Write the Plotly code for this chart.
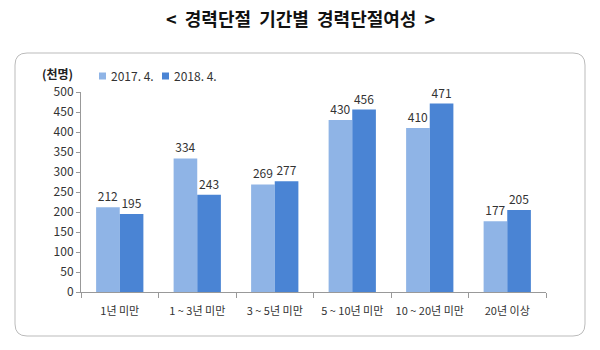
import plotly.graph_objects as go

categories = ["1년 미만", "1 ~ 3년 미만", "3 ~ 5년 미만", "5 ~ 10년 미만", "10 ~ 20년 미만", "20년 이상"]
series_names = ["2017. 4.", "2018. 4."]
values_2017 = [212, 334, 269, 430, 410, 177]
values_2018 = [195, 243, 277, 456, 471, 205]
y_ticks = [0, 50, 100, 150, 200, 250, 300, 350, 400, 450, 500]

colors = ["#8FB4E6", "#4A84D4"]
FONT = "Noto Sans CJK KR"

W, H = 600, 350
ML, MR, MT, MB = 81, 54, 92, 58
PW, PH = W - ML - MR, H - MT - MB


def px_x(x):
    return (x - ML) / PW


def px_y(y):
    return (H - MB - y) / PH


fig = go.Figure()
for name, vals, col in zip(series_names, [values_2017, values_2018], colors):
    fig.add_trace(go.Bar(
        x=categories, y=vals, name=name, marker=dict(color=col, line=dict(width=0)),
        text=[str(v) for v in vals], textposition="outside", cliponaxis=False,
        textfont=dict(family=FONT, size=12, color="#333333"), showlegend=False,
    ))

# rounded frame around the chart body
x0, x1, y0, y1, r = 15, 585, 53, 336, 12
path = (
    f"M {px_x(x0 + r)} {px_y(y0)} L {px_x(x1 - r)} {px_y(y0)} "
    f"Q {px_x(x1)} {px_y(y0)} {px_x(x1)} {px_y(y0 + r)} "
    f"L {px_x(x1)} {px_y(y1 - r)} Q {px_x(x1)} {px_y(y1)} {px_x(x1 - r)} {px_y(y1)} "
    f"L {px_x(x0 + r)} {px_y(y1)} Q {px_x(x0)} {px_y(y1)} {px_x(x0)} {px_y(y1 - r)} "
    f"L {px_x(x0)} {px_y(y0 + r)} Q {px_x(x0)} {px_y(y0)} {px_x(x0 + r)} {px_y(y0)} Z"
)
shapes = [dict(type="path", xref="paper", yref="paper", path=path,
               line=dict(color="#BBBBBB", width=1), fillcolor="rgba(0,0,0,0)", layer="below")]

annotations = [
    dict(text="<  경력단절  기간별  경력단절여성  >", x=px_x(300), y=px_y(18), xref="paper", yref="paper",
         showarrow=False, xanchor="center", yanchor="middle",
         font=dict(family=FONT, size=18, color="#111111", weight="bold")),
    dict(text="(천명)", x=px_x(57), y=px_y(73), xref="paper", yref="paper",
         showarrow=False, xanchor="center", yanchor="middle",
         font=dict(family=FONT, size=12, color="#222222", weight="bold")),
]

# legend drawn as small swatches with labels
legend_x = [99, 162]
for lx, name, col in zip(legend_x, series_names, colors):
    shapes.append(dict(type="rect", xref="paper", yref="paper",
                       x0=px_x(lx), x1=px_x(lx + 7), y0=px_y(79.5), y1=px_y(72.5),
                       fillcolor=col, line=dict(width=0)))
    annotations.append(dict(text=name, x=px_x(lx + 10), y=px_y(76), xref="paper", yref="paper",
                            showarrow=False, xanchor="left", yanchor="middle",
                            font=dict(family=FONT, size=12, color="#333333")))

fig.update_layout(
    width=W, height=H, margin=dict(l=ML, r=MR, t=MT, b=MB, autoexpand=False),
    paper_bgcolor="white", plot_bgcolor="white",
    barmode="group", bargap=0.39, bargroupgap=0,
    font=dict(family=FONT, size=12, color="#333333"),
    shapes=shapes, annotations=annotations,
)
fig.update_xaxes(showline=True, linecolor="#999999", linewidth=1, ticks="outside",
                 tickson="boundaries", ticklen=5, tickcolor="#999999", tickangle=0,
                 automargin=False, ticklabelstandoff=9,
                 tickfont=dict(family=FONT, size=11, color="#333333"), showgrid=False)
fig.update_yaxes(range=[0, 500], tickvals=y_ticks, showline=True, linecolor="#999999", linewidth=1,
                 ticks="outside", ticklen=4, tickcolor="#999999", showgrid=False, zeroline=False,
                 automargin=False,
                 tickfont=dict(family=FONT, size=12, color="#333333"))

fig.write_html("out.html")
